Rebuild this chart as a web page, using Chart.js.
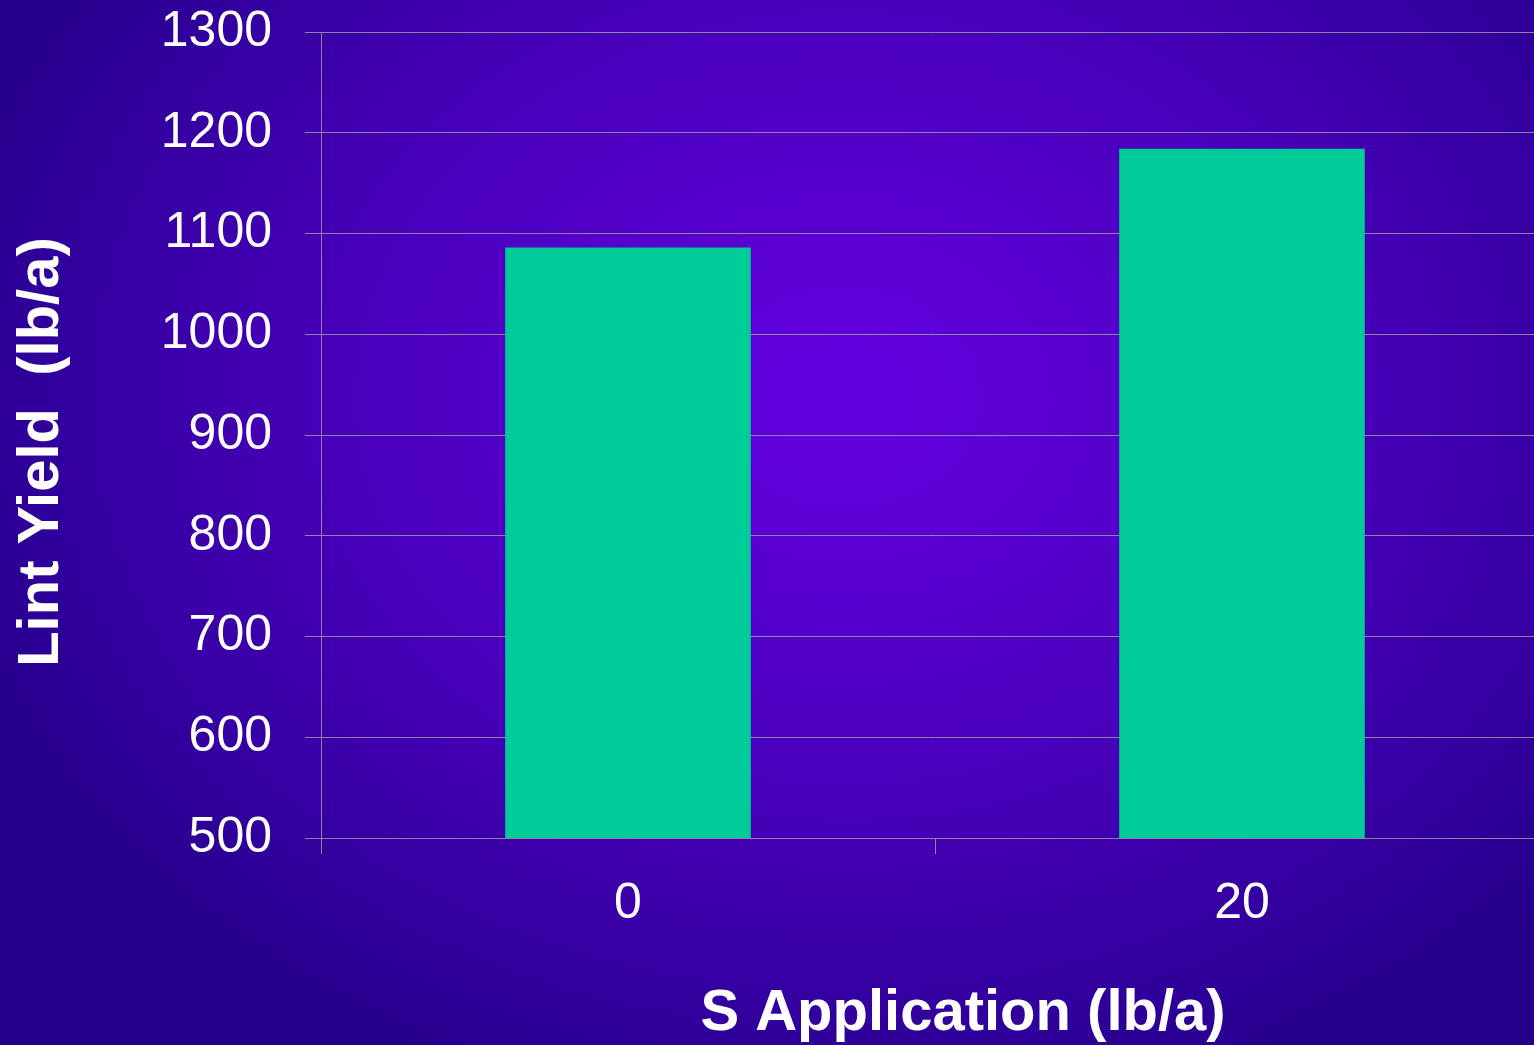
<!DOCTYPE html>
<html>
<head>
<meta charset="utf-8">
<script src="https://cdn.jsdelivr.net/npm/chart.js@4.4.1/dist/chart.umd.min.js"></script>
<style>
  html, body { margin: 0; padding: 0; overflow: hidden; }
  #wrap {
    position: relative;
    width: 1534px;
    height: 1045px;
    overflow: hidden;
    background: radial-gradient(ellipse 62% 72% at 55% 38%, #6400e0 0%, #5800d0 25%, #4700b8 55%, #3400a0 80%, #24008a 100%);
  }
  canvas { display: block; }
</style>
</head>
<body>
<div id="wrap"><canvas id="c" width="1560" height="1045"></canvas></div>
<script>
// S application rates (lb/a) and resulting lint yield (lb/a)
const categories = ['0', '20'];
const lintYield = [1086, 1184];
const yTicks = [500, 600, 700, 800, 900, 1000, 1100, 1200, 1300];
const xTitle = 'S Application (lb/a)';
const yTitle = 'Lint Yield  (lb/a)';

const FONT = '"Liberation Sans", Arial, Helvetica, sans-serif';
const gridColor = 'rgba(150,145,160,0.9)';

// Axis titles drawn relative to the chart area
const axisTitles = {
  id: 'axisTitles',
  afterDraw(chart) {
    const { ctx, chartArea } = chart;
    ctx.save();
    ctx.fillStyle = '#ffffff';
    ctx.font = 'bold 58px ' + FONT;
    ctx.textAlign = 'center';
    ctx.textBaseline = 'middle';
    const cx = (chartArea.left + chartArea.right) / 2 + 28;
    ctx.fillText(xTitle, cx, chartArea.bottom + 176);
    const cy = (chartArea.top + chartArea.bottom) / 2 + 17;
    ctx.translate(42, cy);
    ctx.rotate(-Math.PI / 2);
    ctx.fillText(yTitle, 0, 0);
    ctx.restore();
  }
};

new Chart(document.getElementById('c'), {
  type: 'bar',
  data: {
    labels: categories,
    datasets: [{
      data: lintYield,
      backgroundColor: '#00cc99',
      borderWidth: 0,
      barPercentage: 0.4,
      categoryPercentage: 1.0
    }]
  },
  options: {
    responsive: false,
    devicePixelRatio: 1,
    animation: false,
    layout: { padding: { top: 32, right: 11, bottom: 0, left: 0 } },
    plugins: { legend: { display: false }, tooltip: { enabled: false } },
    scales: {
      x: {
        offset: true,
        grid: {
          offset: true,
          drawOnChartArea: false,
          drawTicks: true,
          tickLength: 16,
          color: gridColor,
          lineWidth: 1
        },
        border: { display: false },
        ticks: {
          color: '#ffffff',
          font: { family: FONT, size: 50 },
          padding: 20,
          maxRotation: 0
        },
        afterFit(scale) {
          scale.height = 207;
          scale.paddingLeft = 0;
          scale.paddingRight = 0;
        }
      },
      y: {
        min: 500,
        max: 1300,
        afterBuildTicks(scale) { scale.ticks = yTicks.map(v => ({ value: v })); },
        grid: {
          drawOnChartArea: true,
          drawTicks: true,
          tickLength: 16,
          color: gridColor,
          lineWidth: 1
        },
        border: { display: true, color: gridColor, width: 1 },
        ticks: {
          color: '#ffffff',
          font: { family: FONT, size: 50 },
          padding: 33,
          callback: v => String(v)
        },
        afterFit(scale) {
          scale.width = 321;
          scale.paddingTop = 0;
          scale.paddingBottom = 0;
        }
      }
    }
  },
  plugins: [axisTitles]
});
</script>
</body>
</html>
